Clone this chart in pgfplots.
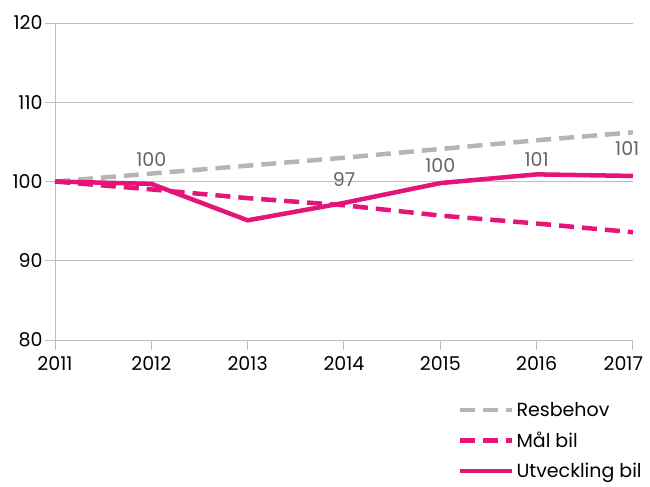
\documentclass[border=0pt]{standalone}
\usepackage{fontspec}
\setmainfont{Poppins}
\usepackage{pgfplots}
\pgfplotsset{compat=1.18}
\definecolor{pinkc}{RGB}{228,20,120}
\definecolor{grayc}{RGB}{180,182,182}
\definecolor{gridc}{RGB}{190,190,190}
\definecolor{labc}{RGB}{100,100,100}
\begin{document}
\begin{tikzpicture}[x=1bp,y=1bp]
\useasboundingbox (-55bp,-147bp) rectangle (595bp,340bp);
\begin{axis}[
  at={(0,0)}, anchor=origin,
  scale only axis, width=578bp, height=317bp,
  xmin=2011, xmax=2017, ymin=80, ymax=120,
  axis lines*=left,
  axis line style={gridc, line width=1pt},
  xtick={2011,...,2017}, ytick={80,90,...,120},
  xticklabels={2011,2012,2013,2014,2015,2016,\makebox[0pt][r]{2017\hspace*{-10bp}}},
  x tick label style={yshift=-3bp},
  y tick label style={xshift=1bp},
  /pgf/number format/assume math mode=true,
  tick align=outside, major tick length=10bp,
  tick style={gridc, line width=1pt},
  ymajorgrids, major grid style={gridc, line width=1pt},
  ticklabel style={font=\fontsize{19bp}{19bp}\selectfont, text=black},
  legend style={at={(0.697,-0.19)}, anchor=north west, draw=none, fill=none, inner sep=0pt,
    font=\fontsize{19bp}{19bp}\selectfont, row sep=10bp, cells={anchor=west}},
  legend cell align=left,
  legend image code/.code={\draw[#1] (0bp,0bp) -- (52bp,0bp);},
  clip=false,
]
\addplot[grayc, line width=4.5bp, dash pattern=on 15bp off 8bp] coordinates {
(2011,100) (2012,101) (2013,102) (2014,103) (2015,104.1) (2016,105.2) (2017,106.2)};
\addlegendentry{Resbehov}
\addplot[pinkc, line width=4.5bp, dash pattern=on 15bp off 8bp] coordinates {
(2011,100) (2012,99) (2013,97.9) (2014,97) (2015,95.7) (2016,94.7) (2017,93.6)};
\addlegendentry{Mål bil}
\addplot[pinkc, line width=4.5bp] coordinates {
(2011,100) (2012,99.7) (2013,95.1) (2014,97.3) (2015,99.8) (2016,100.9) (2017,100.7)};
\addlegendentry{Utveckling bil}
\addplot[draw=none, forget plot, nodes near coords, point meta=explicit symbolic,
  nodes near coords align={center},
  every node near coord/.append style={font=\fontsize{19bp}{19bp}\selectfont, text=labc}]
  table[meta=lab] {
x y lab
2012 102.8 100
2014 100.25 97
2015 102 100
2016 102.8 101
2016.94 104.2 101
};
\end{axis}
\end{tikzpicture}
\end{document}
